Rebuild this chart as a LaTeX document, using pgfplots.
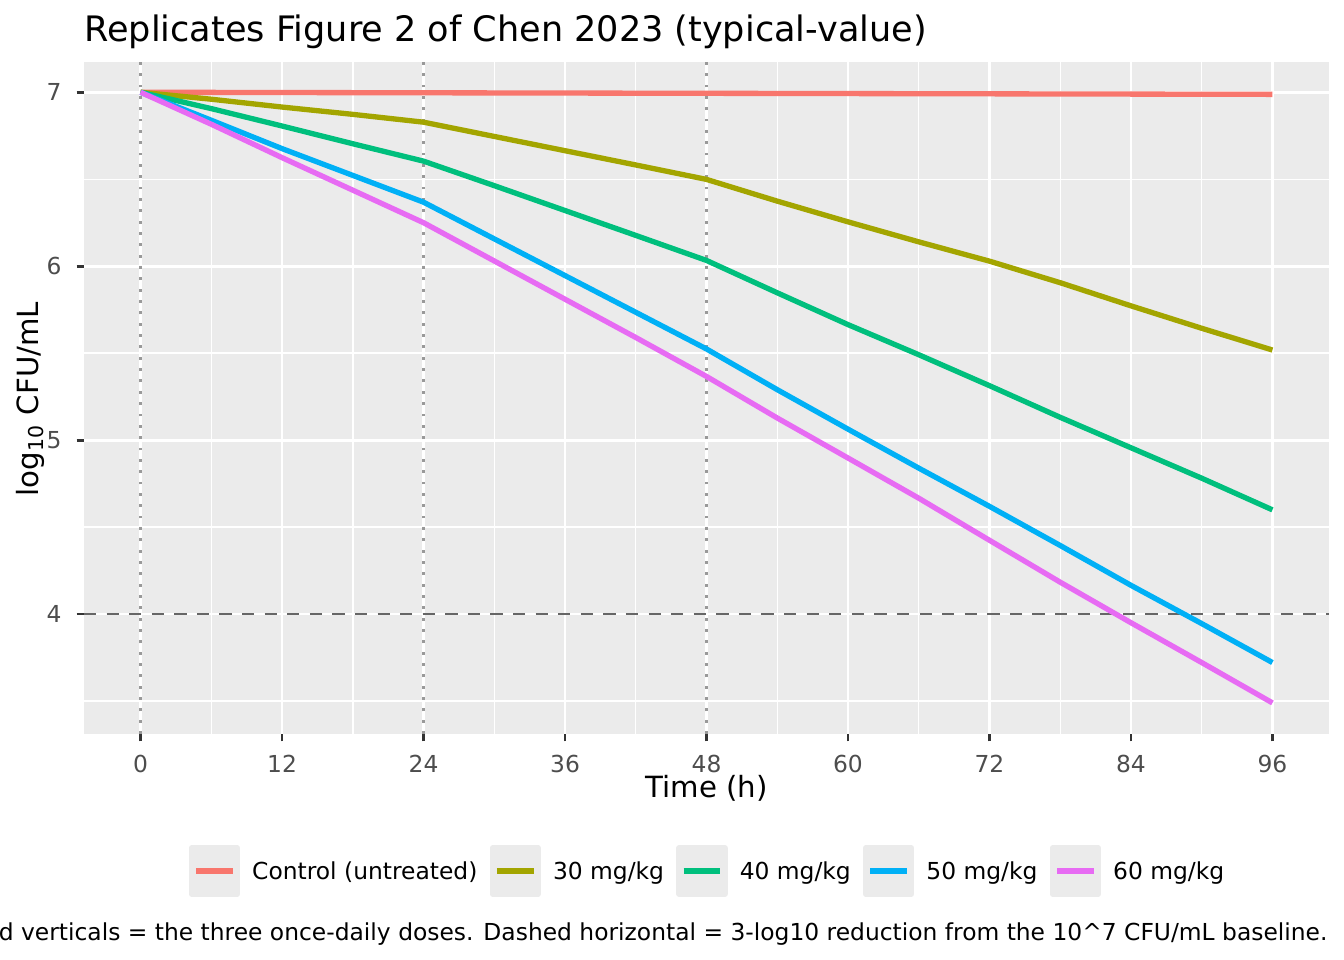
\documentclass[border=0pt]{standalone}
\usepackage{pgfplots}
\pgfplotsset{compat=1.18}
\usepackage{fontspec}
\setmainfont{DejaVu Sans}
\definecolor{panelbg}{HTML}{EBEBEB}
\definecolor{ticklab}{HTML}{4D4D4D}
\definecolor{tickcol}{HTML}{333333}
\definecolor{vline}{HTML}{999999}
\definecolor{hline}{HTML}{666666}
\definecolor{cA}{HTML}{F8766D}
\definecolor{cB}{HTML}{A3A500}
\definecolor{cC}{HTML}{00BF7D}
\definecolor{cD}{HTML}{00B0F6}
\definecolor{cE}{HTML}{E76BF3}
\begin{document}
\begin{tikzpicture}
\begin{axis}[
  at={(31.618pt,-276.282pt)}, anchor=south west,
  scale only axis, width=468.63pt, height=252.94pt,
  xmin=-4.8, xmax=100.8, ymin=3.310, ymax=7.174,
  xtick={0,12,...,96}, ytick={4,5,6,7},
  minor xtick={6,18,...,90}, minor ytick={3.5,4.5,5.5,6.5},
  grid=both,
  major grid style={white, line width=1.07pt},
  minor grid style={white, line width=0.53pt},
  axis background/.style={fill=panelbg},
  axis line style={draw=none},
  tick align=outside, xtick pos=left, ytick pos=left,
  major tick length=2.75pt, minor tick length=0pt,
  major tick style={tickcol, line width=1.07pt},
  tick label style={font=\fontsize{8.8}{10}\selectfont, text=ticklab},
  /pgf/number format/assume math mode=true,
  xticklabel style={anchor=base, inner sep=0pt, yshift=-11.67pt},
  yticklabel style={anchor=east, inner sep=0pt, xshift=-5.5pt},
  legend columns=5,
  legend style={at={(0.5,-0.2039)}, anchor=center, draw=none, fill=none,
    inner sep=0pt, outer sep=0pt, row sep=0pt,
    font=\fontsize{8.8}{10}\selectfont,
    nodes={inner sep=0pt, anchor=base west},
    /tikz/every odd column/.style={column sep=4.6pt},
    /tikz/every even column/.style={column sep=4.6pt}},
  legend image code/.code={
    \fill[panelbg] (0pt,-5.44pt) rectangle (17.28pt,11.84pt);
    \draw[#1, line width=2pt] (1.728pt,3.2pt) -- (15.552pt,3.2pt);
  },
]
% reference lines
\addplot[forget plot, vline, line width=1.07pt, dash pattern=on 1.07pt off 3.2pt] coordinates {(0,3.310) (0,7.174)};
\addplot[forget plot, vline, line width=1.07pt, dash pattern=on 1.07pt off 3.2pt] coordinates {(24,3.310) (24,7.174)};
\addplot[forget plot, vline, line width=1.07pt, dash pattern=on 1.07pt off 3.2pt] coordinates {(48,3.310) (48,7.174)};
\addplot[forget plot, hline, line width=1.1pt, dash pattern=on 4.6pt off 3.9pt] coordinates {(-4.8,4) (100.8,4)};
% data
\addplot[cA, line width=2pt, line join=round] coordinates {
(0,7.000) (24,6.997) (48,6.994) (72,6.991) (96,6.988)};
\addlegendentry{Control (untreated)}
\addplot[cB, line width=2pt, line join=round] coordinates {
(0,7.000) (6,6.960) (12,6.915) (18,6.873) (24,6.828) (30,6.746) (36,6.664) (42,6.582) (48,6.499)
(54,6.374) (60,6.255) (66,6.140) (72,6.029) (78,5.905) (84,5.772) (90,5.643) (96,5.518)};
\addlegendentry{30 mg/kg}
\addplot[cC, line width=2pt, line join=round] coordinates {
(0,7.000) (6,6.906) (12,6.806) (18,6.704) (24,6.604) (30,6.463) (36,6.320) (42,6.177) (48,6.033)
(54,5.847) (60,5.664) (66,5.491) (72,5.313) (78,5.131) (84,4.956) (90,4.781) (96,4.599)};
\addlegendentry{40 mg/kg}
\addplot[cD, line width=2pt, line join=round] coordinates {
(0,7.000) (6,6.839) (12,6.676) (18,6.522) (24,6.368) (30,6.157) (36,5.946) (42,5.735) (48,5.524)
(54,5.290) (60,5.063) (66,4.839) (72,4.619) (78,4.394) (84,4.165) (90,3.945) (96,3.721)};
\addlegendentry{50 mg/kg}
\addplot[cE, line width=2pt, line join=round] coordinates {
(0,7.000) (6,6.816) (12,6.624) (18,6.437) (24,6.250) (30,6.030) (36,5.810) (42,5.590) (48,5.366)
(54,5.127) (60,4.897) (66,4.666) (72,4.424) (78,4.183) (84,3.950) (90,3.721) (96,3.489)};
\addlegendentry{60 mg/kg}
\end{axis}
\begin{scope}[x=0.376406pt, y=-0.376406pt]
\node[anchor=base west, inner sep=0pt, font=\fontsize{13.2}{15}\selectfont] at (84,41.7) {Replicates Figure 2 of Chen 2023 (typical-value)};
\node[anchor=base, inner sep=0pt, font=\fontsize{11}{13}\selectfont] at (706.5,797) {Time (h)};
\node[anchor=base, rotate=90, inner sep=0pt, font=\fontsize{11}{13}\selectfont] at (38,399) {log\textsubscript{10} CFU/mL};
\node[anchor=base east, inner sep=0pt, font=\fontsize{8.8}{10}\selectfont] at (1328,940) {Dotted verticals = the three once-daily doses. Dashed horizontal = 3-log10 reduction from the 10\textasciicircum 7 CFU/mL baseline.};
\end{scope}
\pgfresetboundingbox
\useasboundingbox (0pt,0pt) rectangle (505.89pt,-361.35pt);
\end{tikzpicture}
\end{document}
